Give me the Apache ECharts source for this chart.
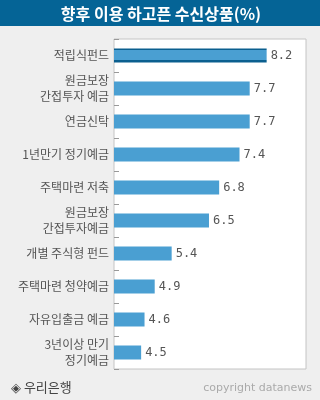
<!DOCTYPE html>
<html>
<head>
<meta charset="utf-8">
<script src="https://cdn.jsdelivr.net/npm/echarts@6/dist/echarts.min.js"></script>
<style>
  html, body { margin: 0; padding: 0; background: #efefef; }
  #chart { width: 320px; height: 400px; }
</style>
</head>
<body>
<div id="chart"></div>
<script>
// 카테고리 / 값
var categories = [
  '적립식펀드',
  '원금보장\n간접투자 예금',
  '연금신탁',
  '1년만기 정기예금',
  '주택마련 저축',
  '원금보장\n간접투자예금',
  '개별 주식형 펀드',
  '주택마련 청약예금',
  '자유입출금 예금',
  '3년이상 만기\n정기예금'
]
var values = [8.2, 7.7, 7.7, 7.4, 6.8, 6.5, 5.4, 4.9, 4.6, 4.5]
var titleText = '향후 이용 하고픈 수신상품(%)'
var sourceText = '◈ 우리은행'
var copyText = 'copyright datanews'

var myChart = echarts.init(document.getElementById('chart'))
var kFont = '"Noto Sans CJK KR", "Noto Sans", sans-serif'

// 첫 막대: 위아래 진한 줄
var highlight = new echarts.graphic.LinearGradient(0, 0, 0, 1, [
  { offset: 0, color: '#0b5f8f' },
  { offset: 0.14, color: '#0b5f8f' },
  { offset: 0.14, color: '#4a9fd2' },
  { offset: 0.79, color: '#4a9fd2' },
  { offset: 0.79, color: '#0b5f8f' },
  { offset: 1, color: '#0b5f8f' }
])

var option = {
  backgroundColor: '#efefef',
  animation: false,
  grid: {
    left: 114,
    top: 39,
    right: 14,
    bottom: 31,
    show: true,
    backgroundColor: '#ffffff',
    borderColor: '#c4c4c4',
    borderWidth: 1
  },
  xAxis: {
    type: 'value',
    min: 3.7,
    max: 9.36,
    show: false
  },
  yAxis: {
    type: 'category',
    inverse: true,
    data: categories,
    axisLine: { show: false },
    axisTick: {
      show: true,
      inside: true,
      length: 5,
      lineStyle: { color: '#999' }
    },
    axisLabel: {
      color: '#555',
      fontSize: 12,
      fontFamily: kFont,
      lineHeight: 16,
      margin: 5
    }
  },
  series: [
    {
      type: 'bar',
      barWidth: 14,
      data: values.map(function (v, i) {
        if (i === 0) {
          return { value: v, itemStyle: { color: highlight } }
        }
        return v
      }),
      itemStyle: { color: '#4a9fd2' },
      label: {
        show: true,
        position: 'right',
        distance: 4,
        color: '#555',
        fontSize: 12,
        fontFamily: '"DejaVu Sans Mono", monospace'
      }
    }
  ],
  graphic: [
    {
      type: 'rect',
      shape: { x: 0, y: 0, width: 320, height: 26 },
      style: { fill: '#056496' }
    },
    {
      type: 'text',
      x: 161,
      y: 14,
      style: {
        text: titleText,
        fill: '#fff',
        font: 'bold 16px ' + kFont,
        align: 'center',
        verticalAlign: 'middle'
      }
    },
    {
      type: 'text',
      x: 11,
      y: 387,
      style: {
        text: sourceText,
        fill: '#444',
        font: '13px ' + kFont,
        verticalAlign: 'middle'
      }
    },
    {
      type: 'text',
      x: 312,
      y: 388,
      style: {
        text: copyText,
        fill: '#aaa',
        font: '11px "DejaVu Sans", sans-serif',
        align: 'right',
        verticalAlign: 'middle'
      }
    }
  ]
}
myChart.setOption(option)
window.onresize = myChart.resize
</script>
</body>
</html>
